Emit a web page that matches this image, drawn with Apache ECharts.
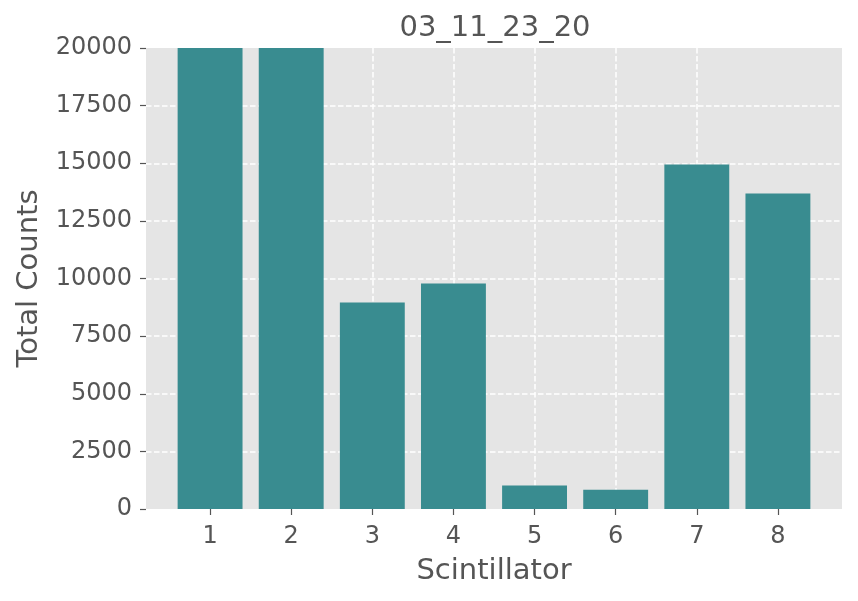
<!DOCTYPE html>
<html>
<head>
<meta charset="utf-8">
<script src="https://cdn.jsdelivr.net/npm/echarts@6/dist/echarts.min.js"></script>
<style>html,body{margin:0;padding:0;background:#fff}#c{width:858px;height:601px}</style>
</head>
<body>
<div id="c"></div>
<script>
const titleText = '03_11_23_20';
const scintillators = [1, 2, 3, 4, 5, 6, 7, 8];
const totalCounts = [20000, 20000, 8960, 9780, 1020, 840, 14950, 13690];
const yTicks = [0, 2500, 5000, 7500, 10000, 12500, 15000, 17500, 20000];

const chart = echarts.init(document.getElementById('c'), null, {renderer: 'canvas'});
const FONT = 'DejaVu Sans';
const TXT = '#555555';
const gridL = 146, gridR = 16, gridT = 48, gridB = 92;
chart.setOption({
  animation: false,
  backgroundColor: '#ffffff',
  textStyle: {fontFamily: FONT},
  graphic: [{
    type: 'text',
    x: gridL + (858 - gridL - gridR) / 2 + 1,
    y: 28,
    style: {text: titleText, font: '29px "DejaVu Sans"', fill: TXT, align: 'center', verticalAlign: 'middle'}
  }],
  grid: {left: gridL, right: gridR, top: gridT, bottom: gridB, show: true, backgroundColor: '#E5E5E5', borderWidth: 0},
  xAxis: {
    type: 'value',
    min: 0.21,
    max: 8.79,
    name: 'Scintillator',
    nameLocation: 'middle',
    nameGap: 48,
    nameTextStyle: {fontFamily: FONT, fontSize: 29, color: TXT},
    axisLine: {show: false},
    axisTick: {show: true, length: 6, lineStyle: {color: TXT, width: 1.2}, customValues: scintillators},
    axisLabel: {fontFamily: FONT, fontSize: 24, color: TXT, margin: 16, customValues: scintillators, formatter: v => String(v)},
    splitLine: {show: true, showMinLine: false, showMaxLine: false, lineStyle: {color: '#ffffff', width: 1.5, type: [5.5, 2.5]}}
  },
  yAxis: {
    type: 'value',
    min: 0,
    max: 20000,
    interval: 2500,
    name: 'Total Counts',
    nameLocation: 'middle',
    nameGap: 102,
    nameTextStyle: {fontFamily: FONT, fontSize: 29, color: TXT},
    axisLine: {show: false},
    axisTick: {show: true, length: 6, lineStyle: {color: TXT, width: 1.2}},
    axisLabel: {fontFamily: FONT, fontSize: 24, color: TXT, margin: 14, formatter: v => String(v)},
    splitLine: {show: true, showMinLine: false, showMaxLine: false, lineStyle: {color: '#ffffff', width: 1.5, type: [5.5, 2.5]}}
  },
  series: [{
    type: 'bar',
    data: scintillators.map((s, i) => [s, totalCounts[i]]),
    barWidth: '80%',
    itemStyle: {color: '#398C90'},
    clip: true
  }]
});
</script>
</body>
</html>
